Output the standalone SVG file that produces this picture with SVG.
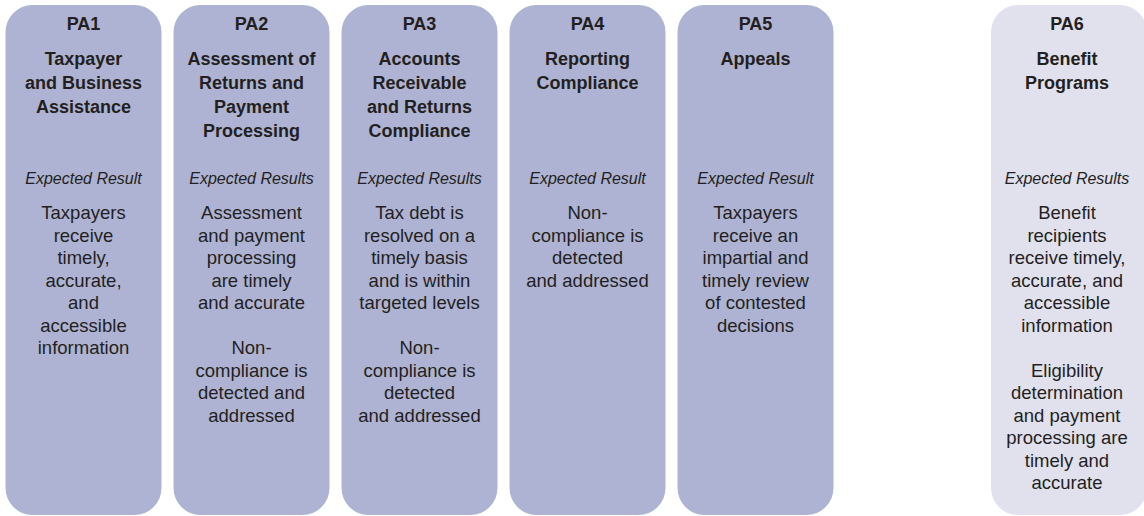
<svg xmlns="http://www.w3.org/2000/svg" width="1144" height="516" viewBox="0 0 1144 516">
<style>
.box{fill:#aeb3d3}
.box6{fill:#e1e1ee}
text{font-family:"Liberation Sans",Arial,sans-serif;fill:#231f20;text-anchor:middle}
.b{font-weight:bold;font-size:18px}
.i{font-style:italic;font-size:16px}
.r{font-size:18.5px}
</style>
<g id="PA1">
<rect class="box" x="5.5" y="5" width="156" height="510" rx="27"/>
<text class="b" x="83.5" y="30">PA1</text>
<text class="b" x="83.5" y="65">Taxpayer</text>
<text class="b" x="83.5" y="89">and Business</text>
<text class="b" x="83.5" y="113">Assistance</text>
<text class="i" x="83.5" y="184">Expected Result</text>
<text class="r" x="83.5" y="219">Taxpayers</text>
<text class="r" x="83.5" y="241.5">receive</text>
<text class="r" x="83.5" y="264">timely,</text>
<text class="r" x="83.5" y="286.5">accurate,</text>
<text class="r" x="83.5" y="309">and</text>
<text class="r" x="83.5" y="331.5">accessible</text>
<text class="r" x="83.5" y="354">information</text>
</g>
<g id="PA2">
<rect class="box" x="173.5" y="5" width="156" height="510" rx="27"/>
<text class="b" x="251.5" y="30">PA2</text>
<text class="b" x="251.5" y="65">Assessment of</text>
<text class="b" x="251.5" y="89">Returns and</text>
<text class="b" x="251.5" y="113">Payment</text>
<text class="b" x="251.5" y="137">Processing</text>
<text class="i" x="251.5" y="184">Expected Results</text>
<text class="r" x="251.5" y="219">Assessment</text>
<text class="r" x="251.5" y="241.5">and payment</text>
<text class="r" x="251.5" y="264">processing</text>
<text class="r" x="251.5" y="286.5">are timely</text>
<text class="r" x="251.5" y="309">and accurate</text>
<text class="r" x="251.5" y="354">Non-</text>
<text class="r" x="251.5" y="376.5">compliance is</text>
<text class="r" x="251.5" y="399">detected and</text>
<text class="r" x="251.5" y="421.5">addressed</text>
</g>
<g id="PA3">
<rect class="box" x="341.5" y="5" width="156" height="510" rx="27"/>
<text class="b" x="419.5" y="30">PA3</text>
<text class="b" x="419.5" y="65">Accounts</text>
<text class="b" x="419.5" y="89">Receivable</text>
<text class="b" x="419.5" y="113">and Returns</text>
<text class="b" x="419.5" y="137">Compliance</text>
<text class="i" x="419.5" y="184">Expected Results</text>
<text class="r" x="419.5" y="219">Tax debt is</text>
<text class="r" x="419.5" y="241.5">resolved on a</text>
<text class="r" x="419.5" y="264">timely basis</text>
<text class="r" x="419.5" y="286.5">and is within</text>
<text class="r" x="419.5" y="309">targeted levels</text>
<text class="r" x="419.5" y="354">Non-</text>
<text class="r" x="419.5" y="376.5">compliance is</text>
<text class="r" x="419.5" y="399">detected</text>
<text class="r" x="419.5" y="421.5">and addressed</text>
</g>
<g id="PA4">
<rect class="box" x="509.5" y="5" width="156" height="510" rx="27"/>
<text class="b" x="587.5" y="30">PA4</text>
<text class="b" x="587.5" y="65">Reporting</text>
<text class="b" x="587.5" y="89">Compliance</text>
<text class="i" x="587.5" y="184">Expected Result</text>
<text class="r" x="587.5" y="219">Non-</text>
<text class="r" x="587.5" y="241.5">compliance is</text>
<text class="r" x="587.5" y="264">detected</text>
<text class="r" x="587.5" y="286.5">and addressed</text>
</g>
<g id="PA5">
<rect class="box" x="677.5" y="5" width="156" height="510" rx="27"/>
<text class="b" x="755.5" y="30">PA5</text>
<text class="b" x="755.5" y="65">Appeals</text>
<text class="i" x="755.5" y="184">Expected Result</text>
<text class="r" x="755.5" y="219">Taxpayers</text>
<text class="r" x="755.5" y="241.5">receive an</text>
<text class="r" x="755.5" y="264">impartial and</text>
<text class="r" x="755.5" y="286.5">timely review</text>
<text class="r" x="755.5" y="309">of contested</text>
<text class="r" x="755.5" y="331.5">decisions</text>
</g>
<g id="PA6">
<rect class="box6" x="991" y="5" width="156" height="510" rx="27"/>
<text class="b" x="1067" y="30">PA6</text>
<text class="b" x="1067" y="65">Benefit</text>
<text class="b" x="1067" y="89">Programs</text>
<text class="i" x="1067" y="184">Expected Results</text>
<text class="r" x="1067" y="219">Benefit</text>
<text class="r" x="1067" y="241.5">recipients</text>
<text class="r" x="1067" y="264">receive timely,</text>
<text class="r" x="1067" y="286.5">accurate, and</text>
<text class="r" x="1067" y="309">accessible</text>
<text class="r" x="1067" y="331.5">information</text>
<text class="r" x="1067" y="376.5">Eligibility</text>
<text class="r" x="1067" y="399">determination</text>
<text class="r" x="1067" y="421.5">and payment</text>
<text class="r" x="1067" y="444">processing are</text>
<text class="r" x="1067" y="466.5">timely and</text>
<text class="r" x="1067" y="489">accurate</text>
</g>
<g id="connectors"/>
</svg>
